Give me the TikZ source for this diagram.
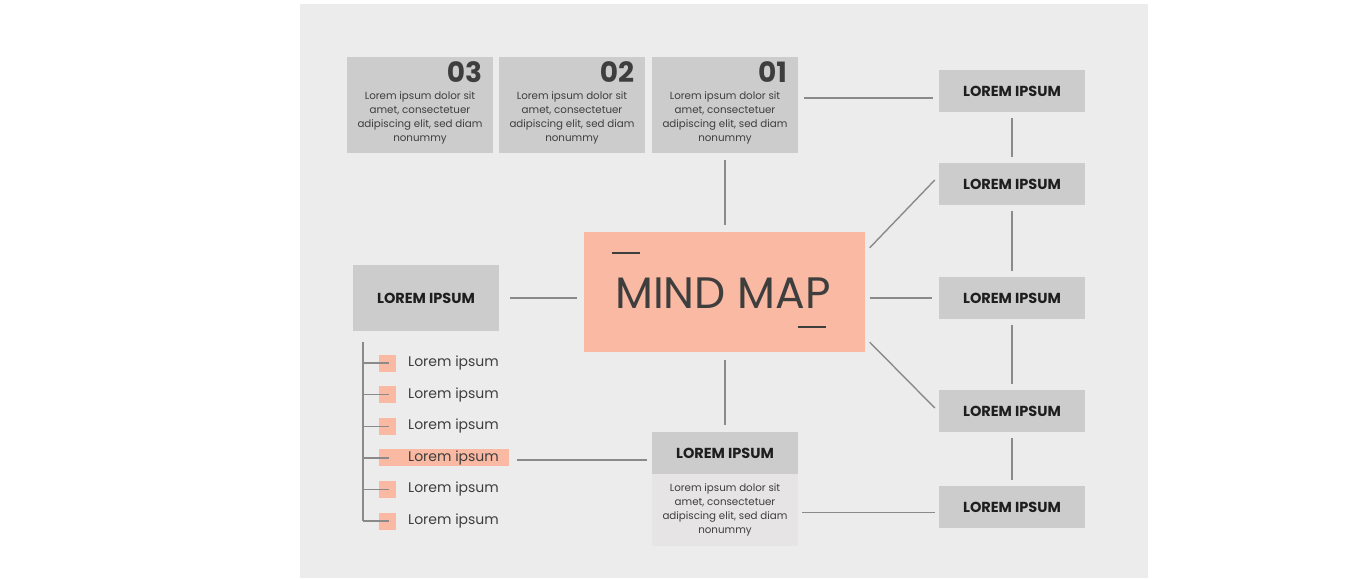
\documentclass[tikz,border=0pt]{standalone}
\usepackage{fontspec}
\setmainfont{Poppins}
\usepackage{tikz}
\usetikzlibrary{positioning}

\definecolor{panelGray}{HTML}{ECECEC}
\definecolor{boxGray}{HTML}{CCCCCC}
\definecolor{noteGray}{HTML}{E6E4E4}
\definecolor{peach}{HTML}{F9B9A2}
\definecolor{lineGray}{HTML}{8A8A8A}
\definecolor{inkGray}{HTML}{3E3E3E}
\definecolor{inkDark}{HTML}{1E1E1E}

\begin{document}
\begin{tikzpicture}[
      x=1pt,y=-1pt,
      conn/.style  ={draw=lineGray,line width=1.4pt},
      card/.style  ={fill=boxGray,inner sep=0pt,minimum width=146pt,minimum height=96pt},
      tag/.style   ={fill=boxGray,inner sep=0pt,minimum width=146pt,minimum height=42pt,
                     text=inkDark,font=\fontsize{14.5}{16}\selectfont\bfseries},
      note/.style  ={align=center,text=inkGray,inner sep=0pt,font=\fontsize{10.3}{14}\selectfont},
      num/.style   ={text=inkGray,inner sep=0pt,font=\fontsize{28}{28}\selectfont\bfseries},
      item/.style  ={text=inkGray,inner sep=0pt,font=\fontsize{14}{16}\selectfont},
      bullet/.style={fill=peach,inner sep=0pt,minimum height=17pt,anchor=west}]
      \useasboundingbox (0,0) rectangle (1350,580);
      % Panel
      \fill[panelGray] (300,4) rectangle (1148,578);

      % Numbered cards
      \foreach \n/\x in {03/420,02/572,01/725}{
        \node[card] (T\n) at (\x,105) {};
        \node[num,anchor=base east] at ([shift={(-11,26)}]T\n.north east) {\n};
        \node[note] at ([yshift=-13pt]T\n.center) {Lorem ipsum dolor sit\\amet, consectetuer\\adipiscing elit, sed diam\\nonummy};
      }

      % Centre
      \node[fill=peach,inner sep=0pt,minimum width=281pt,minimum height=120pt] (C) at (724,292) {};
      \node[text=inkGray,inner sep=0pt,font=\fontsize{44}{44}\selectfont] (Ctxt) at (723,293) {MIND MAP};
      \draw[inkGray,line width=2pt] ([shift={(29,-39)}]C.west) -- ++(28,0);
      \draw[inkGray,line width=2pt] ([shift={(-67,35)}]C.east) -- ++(28,0);

      % Right column
      \foreach \k/\y in {1/91,2/184,3/298,4/411,5/507}{
        \node[tag] (R\k) at (1012,\y) {LOREM IPSUM};
      }
      \foreach \a/\b in {1/2,2/3,3/4,4/5}{
        \draw[conn,shorten <=6pt,shorten >=6pt] (R\a.south) -- (R\b.north);
      }

      % Left box
      \node[tag,minimum height=66pt] (L) at (426,298) {LOREM IPSUM\hspace{8pt}};

      % Bottom box
      \node[tag] (B) at (725,453) {LOREM IPSUM};
      \node[fill=noteGray,inner sep=0pt,minimum width=146pt,minimum height=72pt,below=0pt of B] (Bn) {};
      \node[note] at (Bn.center) {Lorem ipsum dolor sit\\amet, consectetuer\\adipiscing elit, sed diam\\nonummy};

      % List
      \coordinate (top) at ([shift={(10,11)}]L.south west);
      \foreach \w [count=\i] in {17,17,17,130,17,17}{
        \node[bullet,minimum width=\w pt] (M\i) at (379,{363+31.6*(\i-1)}) {};
        \node[item,anchor=west] (I\i) at (408,{363+31.6*(\i-1)}) {Lorem ipsum};
        \draw[conn] (top |- M\i) -- ([xshift=10pt]M\i.west);
      }
      \draw[conn] (top) -- (top |- M6);

      % Connectors
      \draw[conn,shorten <=6pt,shorten >=6pt] ([yshift=7pt]T01.east) -- ([yshift=7pt]T01.east -| R1.west);
      \draw[conn,shorten <=7pt,shorten >=7pt] (T01.south) -- (T01.south |- C.north);
      \draw[conn,shorten <=8pt,shorten >=7pt] (C.south -| B.north) -- (B.north);
      \draw[conn,shorten <=11pt,shorten >=6pt] (L.east) -- (L.east -| C.west);
      \draw[conn,shorten <=5pt,shorten >=7pt] (C.east |- R3.west) -- (R3.west);
      \draw[conn] ([shift={(5,16)}]C.north east) -- ([shift={(-4,-4)}]R2.west);
      \draw[conn] ([shift={(5,-10)}]C.south east) -- ([shift={(-4,-3)}]R4.west);
      \draw[conn,shorten <=8pt,shorten >=5pt] ([yshift=-2pt]M4.east) -- ([yshift=-2pt]M4.east -| B.west);
      \draw[conn,shorten <=4pt,shorten >=4pt] ([yshift=-2pt]Bn.east) -- ([yshift=-2pt]Bn.east -| R5.west);
  \end{tikzpicture}
\end{document}
